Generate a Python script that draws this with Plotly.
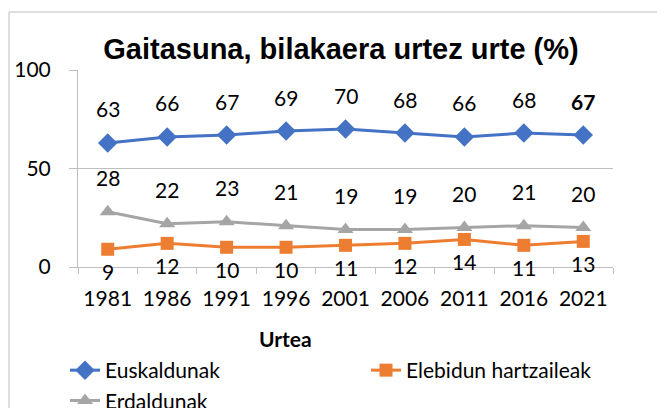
import plotly.graph_objects as go

years = ["1981", "1986", "1991", "1996", "2001", "2006", "2011", "2016", "2021"]
euskaldunak = [63, 66, 67, 69, 70, 68, 66, 68, 67]
elebidun = [9, 12, 10, 10, 11, 12, 14, 11, 13]
erdaldunak = [28, 22, 23, 21, 19, 19, 20, 21, 20]
y_ticks = [0, 50, 100]

BLUE = "#4472C4"
ORANGE = "#ED7D31"
GRAY = "#A5A5A5"
GRID = "#BFBFBF"
FONT = "Lato"

W, H = 657, 400          # page body has an 8px margin
L, R, T, B = 70, 52, 62, 141
PW, PH = W - L - R, H - T - B

fig = go.Figure()
fig.add_trace(go.Scatter(x=years, y=euskaldunak, name="Euskaldunak", mode="lines+markers",
                         line=dict(color=BLUE, width=3),
                         marker=dict(symbol="diamond", size=15, color=BLUE)))
fig.add_trace(go.Scatter(x=years, y=elebidun, name="Elebidun hartzaileak", mode="lines+markers",
                         line=dict(color=ORANGE, width=3),
                         marker=dict(symbol="square", size=13, color=ORANGE)))
fig.add_trace(go.Scatter(x=years, y=erdaldunak, name="Erdaldunak", mode="lines+markers",
                         line=dict(color=GRAY, width=3),
                         marker=dict(symbol="triangle-up", size=14, color=GRAY)))

anns = []
for i, v in enumerate(euskaldunak):
    txt = f"<b>{v}</b>" if i == len(years) - 1 else str(v)
    anns.append(dict(x=i, y=v, text=txt, showarrow=False, yshift=34,
                     font=dict(family=FONT, size=21, color="black")))
for i, v in enumerate(erdaldunak):
    anns.append(dict(x=i, y=v, text=str(v), showarrow=False, yshift=34,
                     font=dict(family=FONT, size=21, color="black")))
for i, v in enumerate(elebidun):
    anns.append(dict(x=i, y=v, text=str(v), showarrow=False, yshift=-22,
                     font=dict(family=FONT, size=21, color="black")))
anns.append(dict(xref="paper", yref="paper", x=(277 - L) / PW, y=(T + PH - 330) / PH,
                 text="<b>Urtea</b>", showarrow=False, xanchor="center", yanchor="middle",
                 font=dict(family=FONT, size=21, color="black")))

fig.update_layout(
    width=W, height=H,
    margin=dict(l=L, r=R, t=T, b=B, autoexpand=False),
    paper_bgcolor="white", plot_bgcolor="white",
    font=dict(family=FONT, size=21, color="black"),
    title=dict(text="<b>Gaitasuna, bilakaera urtez urte (%)</b>",
               font=dict(family="Liberation Sans", size=29, color="black"),
               x=333 / W, xanchor="center", y=1 - 41 / H, yanchor="middle"),
    annotations=anns,
    showlegend=True,
    legend=dict(orientation="h", xref="paper", yref="paper",
                x=(57 - L) / PW, xanchor="left", y=(T + PH - 342) / PH, yanchor="top",
                entrywidth=256, entrywidthmode="pixels", tracegroupgap=0,
                font=dict(family=FONT, size=21, color="black"), bgcolor="rgba(0,0,0,0)"),
    shapes=[dict(type="rect", xref="paper", yref="paper",
                 x0=(1 - L) / PW, x1=1.3, y0=-0.9, y1=(T + PH - 4) / PH,
                 line=dict(color="#BFBFBF", width=1), layer="below")],
)
fig.update_xaxes(type="category", range=[-0.5, len(years) - 0.5], showgrid=False,
                 showline=True, linecolor=GRID, linewidth=1,
                 ticks="outside", tickson="boundaries", ticklen=6, tickcolor=GRID,
                 tickfont=dict(family=FONT, size=21), ticklabelstandoff=13, automargin=False)
fig.update_yaxes(range=[0, 100], tickvals=y_ticks, showgrid=True, gridcolor=GRID, gridwidth=1,
                 showline=True, linecolor=GRID, linewidth=1, zeroline=False,
                 ticks="outside", ticklen=8, tickcolor=GRID,
                 tickfont=dict(family=FONT, size=21), ticklabelstandoff=14, automargin=False)

fig.write_html("out.html")
